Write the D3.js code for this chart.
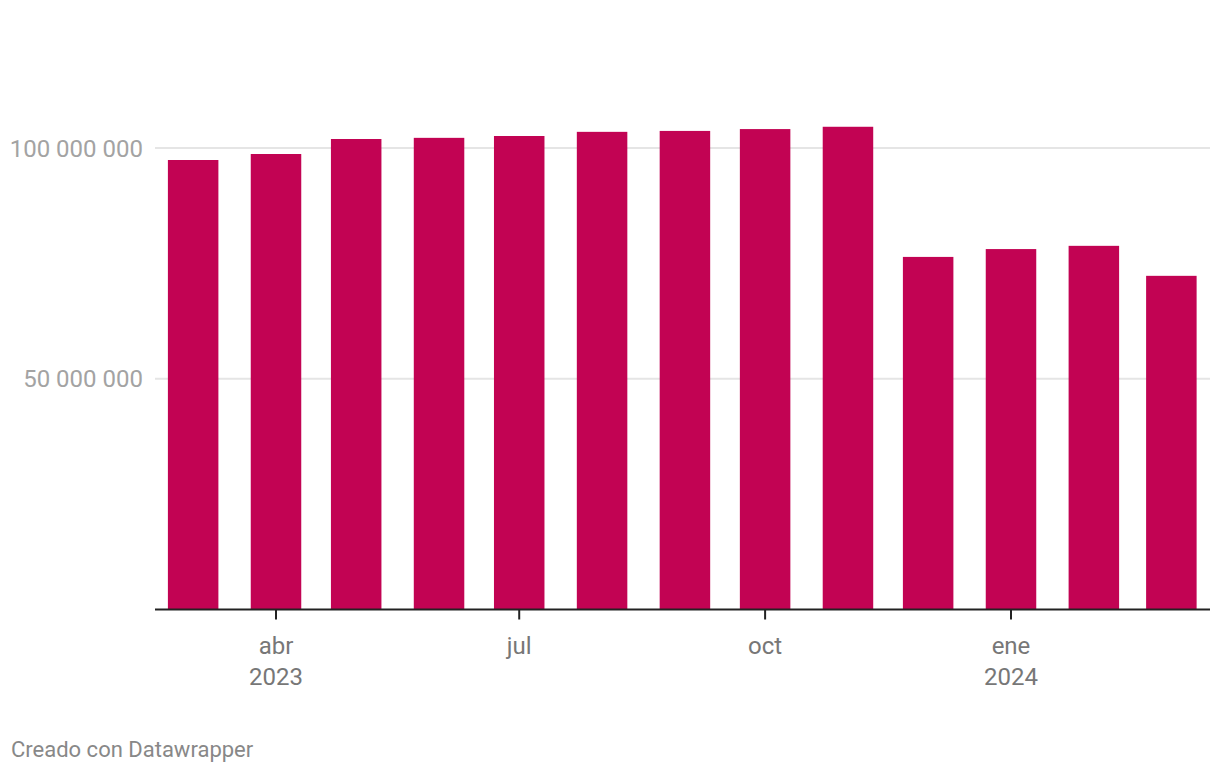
<!DOCTYPE html>
<html><head><meta charset="utf-8">
<script src="https://cdn.jsdelivr.net/npm/d3@7"></script>
<style>
html,body{margin:0;padding:0;background:#fff;}
svg{display:block;font-family:Roboto, "Noto Sans", sans-serif;}
</style></head>
<body><svg id="c" width="1220" height="772"></svg>
<script>
const months = ["2023-03-01","2023-04-01","2023-05-01","2023-06-01","2023-07-01","2023-08-01","2023-09-01","2023-10-01","2023-11-01","2023-12-01","2024-01-01","2024-02-01","2024-03-01"];
const values = [97400000,98700000,101950000,102200000,102600000,103500000,103700000,104100000,104600000,76400000,78100000,78800000,72300000];
const yTicks = [50000000,100000000];
const yTickLabels = ["50 000 000","100 000 000"];
const xTicks = ["2023-04-01","2023-07-01","2023-10-01","2024-01-01"];
const xTickMonth = ["abr","jul","oct","ene"];
const xTickYear = ["2023","","","2024"];

const parse = d3.utcParse("%Y-%m-%d");
const svg = d3.select("#c");

const x = d3.scaleUtc().domain([parse("2023-04-01"), parse("2024-01-01")]).range([276, 1011]);
const y = d3.scaleLinear().domain([0, 100000000]).range([609.5, 148]);
const plotLeft = 155, plotRight = 1210;
const barW = 50.5;

// gridlines
svg.append("g").selectAll("line").data(yTicks).join("line")
  .attr("x1", plotLeft).attr("x2", plotRight)
  .attr("y1", d => y(d)).attr("y2", d => y(d))
  .attr("stroke", "#e5e5e5").attr("stroke-width", 2);

// y labels
svg.append("g").selectAll("text").data(yTicks).join("text")
  .attr("x", 143).attr("y", d => y(d)).attr("dy", "0.36em")
  .attr("text-anchor", "end").attr("fill", "#a3a3a3")
  .attr("font-size", 24)
  .text((d, i) => yTickLabels[i]);

// bars
svg.append("g").selectAll("rect").data(values).join("rect")
  .attr("x", (d, i) => x(parse(months[i])) - barW / 2)
  .attr("width", barW)
  .attr("y", d => y(d))
  .attr("height", d => y(0) - y(d))
  .attr("fill", "#c20353");

// baseline
svg.append("line").attr("x1", plotLeft).attr("x2", plotRight)
  .attr("y1", 609.5).attr("y2", 609.5).attr("stroke", "#222").attr("stroke-width", 2);

// x axis ticks
const xa = svg.append("g");
xa.selectAll("line").data(xTicks).join("line")
  .attr("x1", d => x(parse(d))).attr("x2", d => x(parse(d)))
  .attr("y1", 609).attr("y2", 619.5).attr("stroke", "#222").attr("stroke-width", 2);
xa.selectAll("text.m").data(xTicks).join("text").attr("class", "m")
  .attr("x", d => x(parse(d))).attr("y", 654)
  .attr("text-anchor", "middle").attr("fill", "#777").attr("font-size", 24)
  .text((d, i) => xTickMonth[i]);
xa.selectAll("text.yr").data(xTicks).join("text").attr("class", "yr")
  .attr("x", d => x(parse(d))).attr("y", 684.5)
  .attr("text-anchor", "middle").attr("fill", "#777").attr("font-size", 24)
  .text((d, i) => xTickYear[i]);

// footer
svg.append("text").attr("x", 11).attr("y", 757).attr("fill", "#888")
  .attr("font-size", 22).text("Creado con Datawrapper");
</script></body></html>
